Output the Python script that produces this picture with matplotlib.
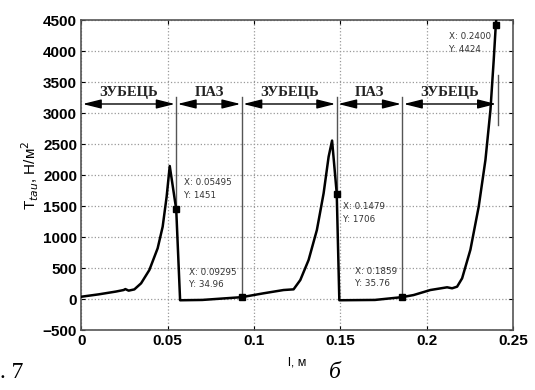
import matplotlib
matplotlib.use('Agg')
import matplotlib.pyplot as plt

# кривая T_tau(l)
l_m = [0.0, 0.010, 0.020, 0.0245, 0.0255, 0.0274, 0.0307, 0.0346, 0.0394, 0.0442,
       0.0471, 0.0494, 0.0512, 0.05495, 0.0572, 0.07, 0.09295,
       0.1055, 0.1171, 0.1229, 0.1268, 0.1316, 0.1364, 0.1403, 0.1432, 0.1452,
       0.1479, 0.1494, 0.17, 0.1859,
       0.1924, 0.2021, 0.2118, 0.2147, 0.2176, 0.2205, 0.2253, 0.2301, 0.2340,
       0.2369, 0.2388, 0.2400, 0.2407]
t_tau = [42, 80, 125, 150, 165, 140, 160, 258, 473, 823,
         1171, 1655, 2150, 1451, -15, -10, 34.96,
         97, 150, 161, 311, 634, 1118, 1710, 2300, 2560,
         1706, -15, -10, 35.76,
         69, 150, 194, 178, 204, 339, 800, 1494, 2247,
         3053, 3860, 4424, 4650]

# точки data tip
tip_x = [0.05495, 0.09295, 0.1479, 0.1859, 0.2400]
tip_y = [1451, 34.96, 1706, 35.76, 4424]
tip_text = ['X: 0.05495\nY: 1451', 'X: 0.09295\nY: 34.96', 'X: 0.1479\nY: 1706',
            'X: 0.1859\nY: 35.76', 'X: 0.2400\nY: 4424']
tip_tx = [0.0597, 0.0625, 0.1517, 0.1586, 0.2131]
tip_ty = [1780, 335, 1392, 350, 4134]

# зоны зубец / паз
bounds = [0.0, 0.05495, 0.09295, 0.1479, 0.1859, 0.2410]
zones = ['ЗУБЕЦЬ', 'ПАЗ', 'ЗУБЕЦЬ', 'ПАЗ', 'ЗУБЕЦЬ']
arrow_y = 3150
label_y = 3330

fig = plt.figure(figsize=(5.35, 3.9), dpi=100)
ax = fig.add_axes([0.152, 0.153, 0.807, 0.795])

ax.plot(l_m, t_tau, color='black', lw=1.8, zorder=3)
ax.plot(tip_x, tip_y, 's', color='black', ms=4.5, zorder=4)

for x, y, s, tx, ty in zip(tip_x, tip_y, tip_text, tip_tx, tip_ty):
    ax.text(tx, ty, s, fontsize=6.3, color='#333333', va='center', ha='left',
            linespacing=1.5, family='DejaVu Sans')

# вертикальные разделители
for i, x in enumerate(bounds[1:5]):
    ax.plot([x, x], [tip_y[i], 3260], color='#555555', lw=1.0, zorder=2)
ax.plot([bounds[5], bounds[5]], [2810, 3620], color='#555555', lw=1.0, zorder=2)

for i, name in enumerate(zones):
    a, b = bounds[i], bounds[i + 1]
    ax.annotate('', xy=(a, arrow_y), xytext=(b, arrow_y),
                arrowprops=dict(arrowstyle='<|-|>,head_length=0.8,head_width=0.2',
                                color='black', lw=1.0,
                                mutation_scale=14, shrinkA=1, shrinkB=1))
    ax.text((a + b) / 2, label_y, name, ha='center', va='center',
            family='Liberation Serif', fontsize=10.5, fontweight='bold', color='#222222')

ax.set_xlim(0, 0.25)
ax.set_ylim(-500, 4500)
ax.set_xticks([0, 0.05, 0.1, 0.15, 0.2, 0.25])
ax.set_xticklabels(['0', '0.05', '0.1', '0.15', '0.2', '0.25'])
ax.set_yticks(range(-500, 4501, 500))
ax.grid(True, linestyle=':', color='#999999', lw=0.9)
ax.tick_params(direction='in', top=True, right=True, length=3, labelsize=11, pad=3)
for lab in ax.get_xticklabels() + ax.get_yticklabels():
    lab.set_fontweight('bold')
    lab.set_family('Liberation Sans')
for sp in ax.spines.values():
    sp.set_color('#555555')
    sp.set_linewidth(1.2)

ax.set_xlabel('l, м', fontsize=9, family='Liberation Sans', labelpad=6)
ax.set_ylabel('T$_{tau}$, H/м$^2$', fontsize=11, family='Liberation Sans', labelpad=1)

fig.text(0.0, 0.03, '. 7', family='Liberation Serif', fontsize=17)
fig.text(0.615, 0.03, 'б', family='Liberation Serif', fontsize=17, style='italic')

fig.savefig('out.png', dpi=100)
